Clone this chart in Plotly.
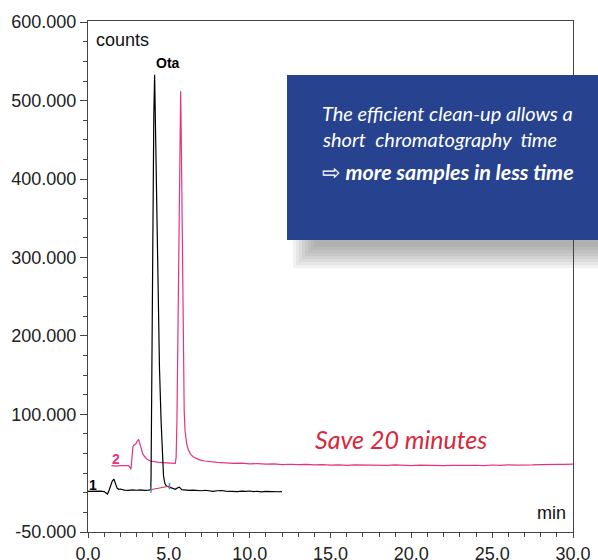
import plotly.graph_objects as go

# ---------------- data ----------------
t1 = [0.0, 0.25, 0.5, 0.75, 1.0, 1.1, 1.2, 1.3, 1.4, 1.5, 1.6, 1.7, 1.8, 1.9, 2.0,
      2.25, 2.5, 2.75, 3.0, 3.25, 3.5, 3.75,
      3.88, 3.9, 3.93, 3.97, 4.02, 4.07, 4.12, 4.17, 4.24, 4.32, 4.42, 4.52, 4.6, 4.67,
      4.75, 4.85, 5.0,
      5.2, 5.4, 5.55, 5.65, 5.8, 6.0,
      6.25, 6.5, 6.75, 7.0, 7.25, 7.5, 7.75, 8.0, 8.25, 8.5, 8.75, 9.0, 9.25, 9.5,
      9.75, 10.0, 10.25, 10.5, 10.75, 11.0, 11.25, 11.5, 11.75, 12.0]
y1 = [1800, 2100, 1700, 2200, 1600, 0, -1500, 3000, 9000, 15000, 17500, 12000, 6000, 4500, 4800,
      3500, 3000, 3800, 3200, 3600, 3000, 3400,
      4200, 20000, 120000, 250000, 380000, 480000, 533000, 470000, 370000, 250000, 160000,
      92000, 45000, 22000, 12000, 8500, 7500,
      5500, 4500, 6500, 7200, 4000, 3600,
      3000, 3500, 2800, 2600, 3200, 2400, 1800, 2600, 2900, 2200, 1900, 2500, 1500, 2100,
      1700, 2300, 1600, 1900, 1200, 1800, 1500, 1900, 1300, 1600]

t2 = [1.45, 1.75, 2.0, 2.25, 2.5, 2.58, 2.66, 2.72, 2.78, 2.85, 2.95, 3.05, 3.13, 3.2, 3.3,
      3.4, 3.55, 3.7, 3.85, 4.0, 4.3, 4.6, 4.9, 5.2, 5.4,
      5.45, 5.5, 5.55, 5.6, 5.65, 5.7, 5.73, 5.76, 5.8, 5.85,
      5.9, 5.95, 6.0, 6.1, 6.2, 6.35, 6.5, 6.7, 6.9, 7.2, 7.5,
      8.0, 8.5, 9.0, 9.5, 10.0, 10.5, 11.0, 11.5, 12.0, 12.5,
      13.0, 13.5, 14.0, 14.5, 15.0, 15.5, 16.0, 16.5, 17.0, 17.5,
      18.0, 18.5, 19.0, 19.5, 20.0, 20.5, 21.0, 21.5, 22.0, 22.5,
      23.0, 23.5, 24.0, 24.5, 25.0, 25.5, 26.0, 26.5, 27.0, 27.5,
      28.0, 28.5, 29.0, 29.5, 30.0]
y2 = [34500, 34000, 34700, 34200, 34600, 33000, 30000, 45000, 59000, 61000, 62000, 66000, 68000, 63000, 55000,
      49000, 45000, 42000, 40500, 39800, 39000, 38500, 38000, 37500, 37500,
      45000, 90000, 180000, 290000, 400000, 490000, 512000, 470000, 370000, 250000,
      160000, 105000, 80000, 63000, 55000, 49000, 46000, 43500, 42000, 40500, 39500,
      38800, 38200, 37500, 37900, 36800, 37200, 36500, 36900, 36000, 36400,
      35800, 36200, 35500, 35900, 35200, 35700, 35000, 35600, 35300, 34800,
      35400, 34900, 35500, 35100, 34700, 35300, 34900, 35200, 34600, 35000,
      35300, 34800, 35100, 34700, 35400, 35000, 35600, 35200, 35800, 35500,
      36000, 35700, 36300, 36100, 36500]

# integration baseline of the Ota peak
base_t = [3.9, 5.04]
base_y = [4000, 8500]

x_ticks = [0, 5, 10, 15, 20, 25, 30]
x_labels = ["0.0", "5.0", "10.0", "15.0", "20.0", "25.0", "30.0"]
y_ticks = [-50000, 100000, 200000, 300000, 400000, 500000, 600000]
y_labels = ["-50.000", "100.000", "200.000", "300.000", "400.000", "500.000", "600.000"]

PINK = "#e8327f"
BLUE_BOX = "#27428f"

fig = go.Figure()
fig.add_trace(go.Scatter(x=t2, y=y2, mode="lines", line=dict(color=PINK, width=1.2),
                         hoverinfo="skip"))
fig.add_trace(go.Scatter(x=t1, y=y1, mode="lines", line=dict(color="black", width=1.2),
                         hoverinfo="skip"))
fig.add_trace(go.Scatter(x=base_t, y=base_y, mode="lines", line=dict(color="#e03030", width=1),
                         hoverinfo="skip"))
for bt, by in zip(base_t, base_y):
    fig.add_trace(go.Scatter(x=[bt, bt], y=[by - 4000, by + 4000], mode="lines",
                             line=dict(color="#5b86c6", width=1.5), hoverinfo="skip"))

tickfont = dict(family="Liberation Sans, Arial, sans-serif", size=18, color="#222")

fig.update_layout(
    width=598, height=560,
    margin=dict(l=88, r=25, t=21, b=28, pad=0, autoexpand=False),
    paper_bgcolor="white", plot_bgcolor="white",
    showlegend=False,
    xaxis=dict(range=[0, 30], tickmode="array", tickvals=x_ticks, ticktext=x_labels,
               ticks="outside", ticklen=5, tickcolor="#444", showline=True, linecolor="#444",
               linewidth=1, mirror=True, showgrid=False, zeroline=False, tickfont=tickfont,
               automargin=False,
               minor=dict(tickmode="linear", tick0=0, dtick=1, ticks="outside", ticklen=4,
                          tickcolor="#444", showgrid=False)),
    yaxis=dict(range=[-50000, 601500], tickmode="array", tickvals=y_ticks, ticktext=y_labels,
               ticks="outside", ticklen=7, tickcolor="#444", showline=True, linecolor="#444",
               linewidth=1, mirror=True, showgrid=False, zeroline=False, tickfont=tickfont,
               automargin=False,
               minor=dict(tickmode="linear", tick0=0, dtick=25000, ticks="outside", ticklen=4,
                          tickcolor="#444", showgrid=False)),
)

W, H = 485.0, 511.0
def px(x):
    return (x - 88) / W
def py(y):
    return (532 - y) / H

# soft shadow under the box
for xs, ye in [(314, 247), (311, 250), (308, 253), (305, 256), (302, 259),
               (299, 262), (296, 265), (293, 268)]:
    fig.add_shape(type="rect", xref="paper", yref="paper", x0=px(xs), x1=px(598),
                  y0=py(240), y1=py(ye), fillcolor="rgba(110,110,110,0.09)", line_width=0,
                  layer="below")
# blue box
fig.add_shape(type="rect", xref="paper", yref="paper", x0=px(287), x1=px(598),
              y0=py(240), y1=py(75), fillcolor=BLUE_BOX, line_width=0, layer="above")

box_font = dict(family="Lato, Open Sans, sans-serif", size=20, color="white")
fig.add_annotation(xref="paper", yref="paper", x=px(320), y=py(113), xanchor="left",
                   yanchor="middle", showarrow=False, font=box_font,
                   text="<i>The efficient clean-up allows a</i>")
fig.add_annotation(xref="paper", yref="paper", x=px(320), y=py(139), xanchor="left",
                   yanchor="middle", showarrow=False, font=box_font,
                   text="<i>short  chromatography  time</i>")
fig.add_annotation(xref="paper", yref="paper", x=px(320), y=py(172), xanchor="left",
                   yanchor="middle", showarrow=False,
                   font=dict(family="Lato, Open Sans, sans-serif", size=21.5, color="white"),
                   text="⇨ <b><i>more samples in less time</i></b>")

fig.add_annotation(xref="paper", yref="paper", x=px(313), y=py(439), xanchor="left",
                   yanchor="middle", showarrow=False,
                   font=dict(family="Lato, Open Sans, sans-serif", size=25, color="#d7283c"),
                   text="<i>Save 20 minutes</i>")

lab_font = dict(family="Liberation Sans, Arial, sans-serif", size=18, color="#111")
fig.add_annotation(xref="paper", yref="paper", x=px(94), y=py(40), xanchor="left",
                   yanchor="middle", showarrow=False, font=lab_font, text="counts")
fig.add_annotation(xref="paper", yref="paper", x=px(568), y=py(513), xanchor="right",
                   yanchor="middle", showarrow=False, font=lab_font, text="min")
fig.add_annotation(xref="paper", yref="paper", x=px(168), y=py(63), xanchor="center",
                   yanchor="middle", showarrow=False,
                   font=dict(family="Liberation Sans, Arial, sans-serif", size=14, color="black"),
                   text="<b>Ota</b>")
fig.add_annotation(xref="paper", yref="paper", x=px(116), y=py(459), xanchor="center",
                   yanchor="middle", showarrow=False,
                   font=dict(family="Liberation Sans, Arial, sans-serif", size=14, color=PINK),
                   text="<b>2</b>")
fig.add_annotation(xref="paper", yref="paper", x=px(93), y=py(485), xanchor="center",
                   yanchor="middle", showarrow=False,
                   font=dict(family="Liberation Sans, Arial, sans-serif", size=14, color="black"),
                   text="<b>1</b>")

# remove the browser's default 8px page margin so the 598x560 figure fills the window
fig.write_html("out.html", config={"displayModeBar": False},
               post_script="document.body.style.margin='0';")
